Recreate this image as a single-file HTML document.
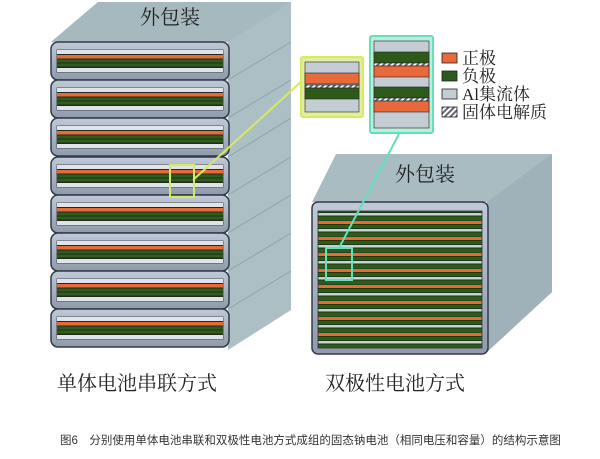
<!DOCTYPE html>
<html><head><meta charset="utf-8"><style>
html,body{margin:0;padding:0;background:#fff;}
svg{display:block}
text{font-family:"Liberation Serif","Noto Serif CJK SC",serif;}
</style></head><body>
<svg width="600" height="459" viewBox="0 0 600 459" xmlns="http://www.w3.org/2000/svg">
<defs>
<linearGradient id="cellg" x1="0" y1="0" x2="0" y2="1">
<stop offset="0" stop-color="#c0c9d8"/><stop offset="1" stop-color="#8f9aab"/></linearGradient>
<pattern id="hatch" width="4" height="4" patternUnits="userSpaceOnUse" patternTransform="rotate(45)">
<rect width="4" height="4" fill="#fff"/><rect width="2" height="4" fill="#667"/></pattern>
<pattern id="bip" x="0" y="213" width="20" height="16" patternUnits="userSpaceOnUse">
<rect width="20" height="16" fill="#1b3a10"/>
<rect y="0" width="20" height="2.5" fill="#c8d0d6"/>
<rect y="3.5" width="20" height="4" fill="#2e5a1c"/>
<rect y="8" width="20" height="3" fill="#e8693a"/>
<rect y="12" width="20" height="3" fill="#2e5a1c"/>
</pattern>
<g id="cell">
<rect x="0" y="0" width="178" height="38" rx="7" fill="url(#cellg)" stroke="#333a48" stroke-width="1.5"/>
<rect x="6" y="8" width="166" height="22" fill="#1f2a1a" stroke="#333" stroke-width="0.8"/>
<rect x="6" y="8" width="166" height="4" fill="#dfe4ea"/>
<rect x="6" y="13" width="166" height="3.5" fill="#e8693a"/>
<rect x="6" y="17.5" width="166" height="3" fill="#2f5d1e"/>
<rect x="6" y="21.5" width="166" height="3" fill="#2f5d1e"/>
<rect x="6" y="26" width="166" height="4" fill="#dfe4ea"/>
</g>
</defs>
<polygon points="51,42 98,2 291,2 291,310 228,350 228,42" fill="#abbfc4"/>
<polygon points="51,42 98,2 291,2 228,42" fill="#a6b9bf"/>
<g stroke="#8fa3aa" stroke-width="1">
<line x1="228" y1="80" x2="291" y2="42"/><line x1="228" y1="118" x2="291" y2="80"/>
<line x1="228" y1="157" x2="291" y2="118"/><line x1="228" y1="195" x2="291" y2="157"/>
<line x1="228" y1="233" x2="291" y2="195"/><line x1="228" y1="271" x2="291" y2="233"/>
<line x1="228" y1="309" x2="291" y2="271"/>
</g>
<use href="#cell" x="51" y="42"/><use href="#cell" x="51" y="80"/>
<use href="#cell" x="51" y="118"/><use href="#cell" x="51" y="157"/>
<use href="#cell" x="51" y="195"/><use href="#cell" x="51" y="233"/>
<use href="#cell" x="51" y="271"/><use href="#cell" x="51" y="309"/>
<text x="170" y="24" font-size="20" text-anchor="middle" fill="#222">外包装</text>
<polygon points="312,202 336,154 552,154 552,292 487,352 487,202" fill="#a9bcc2"/>
<polygon points="487,202 552,154 552,292 487,352" fill="#9fb2b9"/>
<rect x="312" y="202" width="176" height="152" rx="6" fill="url(#cellg)" stroke="#333a48" stroke-width="1.5"/>
<rect x="318" y="211" width="164" height="137" fill="url(#bip)" stroke="#333" stroke-width="0.8"/>
<text x="425" y="181" font-size="20" text-anchor="middle" fill="#222">外包装</text>
<rect x="170" y="165" width="24" height="32" fill="none" stroke="#d6ea60" stroke-width="2"/>
<line x1="193" y1="180" x2="303" y2="80" stroke="#d6ea60" stroke-width="2"/>
<rect x="301" y="57" width="62" height="60" rx="2" fill="#e3ef9c" stroke="#d6ea60" stroke-width="2"/>
<g stroke="#222" stroke-width="0.6">
<rect x="305" y="62" width="54" height="50" fill="#c3cdd3"/>
<rect x="305" y="73" width="54" height="11" fill="#e8693a"/>
<rect x="305" y="85" width="54" height="3" fill="url(#hatch)"/>
<rect x="305" y="88" width="54" height="11" fill="#2d5a1a"/>
</g>
<rect x="326" y="248" width="26" height="32" fill="none" stroke="#62e0b9" stroke-width="2"/>
<line x1="339" y1="248" x2="400" y2="132" stroke="#62e0b9" stroke-width="2"/>
<rect x="370" y="36" width="63" height="97" rx="2" fill="#bdeedd" stroke="#62e0b9" stroke-width="2"/>
<g stroke="#222" stroke-width="0.6">
<rect x="374" y="41" width="55" height="87" fill="#c3cdd3"/>
<rect x="374" y="52" width="55" height="11" fill="#2d5a1a"/>
<rect x="374" y="63" width="55" height="3" fill="url(#hatch)"/>
<rect x="374" y="66" width="55" height="11" fill="#e8693a"/>
<rect x="374" y="87" width="55" height="11" fill="#2d5a1a"/>
<rect x="374" y="98" width="55" height="3" fill="url(#hatch)"/>
<rect x="374" y="101" width="55" height="11" fill="#e8693a"/>
</g>
<g stroke="#222" stroke-width="0.8">
<rect x="442" y="53" width="15" height="10" fill="#e8693a"/>
<rect x="442" y="71" width="15" height="10" fill="#2d5a1a"/>
<rect x="442" y="89" width="15" height="10" fill="#c3cdd3"/>
<rect x="442" y="107" width="15" height="10" fill="url(#hatch)"/>
</g>
<g font-size="17" fill="#222">
<text x="462" y="64">正极</text>
<text x="462" y="82">负极</text>
<text x="462" y="100">Al集流体</text>
<text x="462" y="118">固体电解质</text>
</g>
<text x="57" y="390" font-size="20" fill="#222">单体电池串联方式</text>
<text x="325" y="390" font-size="20" fill="#222">双极性电池方式</text>
<text x="60" y="444" font-size="11.5" fill="#333" style="font-family:'Liberation Sans','Noto Sans CJK SC',sans-serif">图6　分别使用单体电池串联和双极性电池方式成组的固态钠电池（相同电压和容量）的结构示意图</text>
</svg>
</body></html>
